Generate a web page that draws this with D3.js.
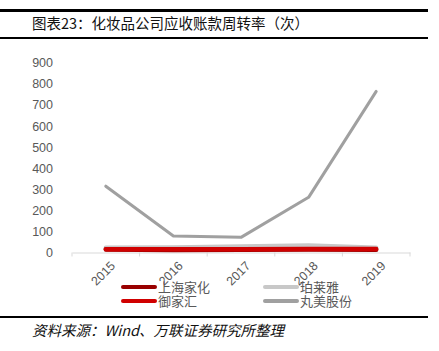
<!DOCTYPE html>
<html><head><meta charset="utf-8">
<script src="https://cdn.jsdelivr.net/npm/d3@7"></script>
<style>body{margin:0;background:#fff}svg{display:block}</style>
</head><body>
<svg id="c" width="439" height="351"></svg>
<script>
const years = ["2015","2016","2017","2018","2019"];
const shanghaiJiahua = [14, 12, 13, 14, 13];
const proya = [22, 24, 28, 33, 22];
const yujiahui = [16, 15, 16, 17, 17];
const marubi = [315, 78, 72, 262, 765];
const yTicks = [0,100,200,300,400,500,600,700,800,900];
const seriesNames = ["上海家化","珀莱雅","御家汇","丸美股份"];
const seriesColors = ["#990000","#C8C8C8","#D00000","#A0A0A0"];

const series = [
  {name: seriesNames[0], values: shanghaiJiahua, color: seriesColors[0]},
  {name: seriesNames[1], values: proya, color: seriesColors[1]},
  {name: seriesNames[2], values: yujiahui, color: seriesColors[2]},
  {name: seriesNames[3], values: marubi, color: seriesColors[3]}
];

const svg = d3.select("#c");
const font = "'Noto Sans CJK SC', sans-serif";

// header lines
svg.append("rect").attr("x",0).attr("y",9).attr("width",428).attr("height",3).attr("fill","#000");
svg.append("rect").attr("x",0).attr("y",37).attr("width",428).attr("height",2).attr("fill","#000");
svg.append("text").attr("x",32).attr("y",29).attr("font-family",font).attr("font-size",14.5)
  .attr("fill","#111").text("图表23：化妆品公司应收账款周转率（次）");

const x = d3.scaleBand().domain(years).range([72,410]);
const y = d3.scaleLinear().domain([0,900]).range([252.5,63]);

// y labels
svg.append("g").selectAll("text").data(yTicks).join("text")
  .attr("x",53).attr("y",d=>y(d)).attr("dy","0.35em").attr("text-anchor","end")
  .attr("font-family","'Liberation Sans', Arial, sans-serif").attr("font-size",12.5).attr("fill","#595959")
  .text(d=>d);

// x axis
const xa = svg.append("g").attr("transform",`translate(0,${y(0)})`)
  .call(d3.axisBottom(x).tickSize(0).tickFormat(""));
xa.select(".domain").attr("stroke","#d9d9d9");
svg.append("g").selectAll("line").data(d3.range(years.length+1)).join("line")
  .attr("x1",i=>72+i*x.step()).attr("x2",i=>72+i*x.step())
  .attr("y1",y(0)).attr("y2",y(0)+4).attr("stroke","#d9d9d9");
svg.append("g").selectAll("text").data(years).join("text")
  .attr("transform",d=>`translate(${x(d)+x.bandwidth()/2+4},${y(0)+8}) rotate(-45)`)
  .attr("text-anchor","end").attr("dy","0.7em")
  .attr("font-family","'Liberation Sans', Arial, sans-serif").attr("font-size",12.5).attr("fill","#595959")
  .text(d=>d);

// lines
const line = d3.line().x((d,i)=>x(years[i])+x.bandwidth()/2).y(d=>y(d));
const order = [3,1,0,2];
order.forEach(k=>{
  const s = series[k];
  svg.append("path").attr("d",line(s.values)).attr("fill","none")
    .attr("stroke",s.color).attr("stroke-width", k===3?3:4.5).attr("stroke-linejoin","round").attr("stroke-linecap","round");
});

// legend
const legPos = [[123,287],[265,287],[123,301],[265,301]];
series.forEach((s,i)=>{
  const [lx,ly] = legPos[i];
  svg.append("line").attr("x1",lx).attr("x2",lx+32).attr("y1",ly).attr("y2",ly)
    .attr("stroke",s.color).attr("stroke-width",4).attr("stroke-linecap","round");
  svg.append("text").attr("x",lx+35).attr("y",ly).attr("dy","0.35em")
    .attr("font-family",font).attr("font-size",13).attr("fill","#595959").text(s.name);
});

// footer
svg.append("rect").attr("x",0).attr("y",316).attr("width",428).attr("height",2).attr("fill","#000");
svg.append("text").attr("x",32).attr("y",336).attr("font-family",font).attr("font-size",14.5)
  .attr("font-style","italic").attr("fill","#111").attr("transform","skewX(0)")
  .text("资料来源：Wind、万联证券研究所整理");
</script>
</body></html>
